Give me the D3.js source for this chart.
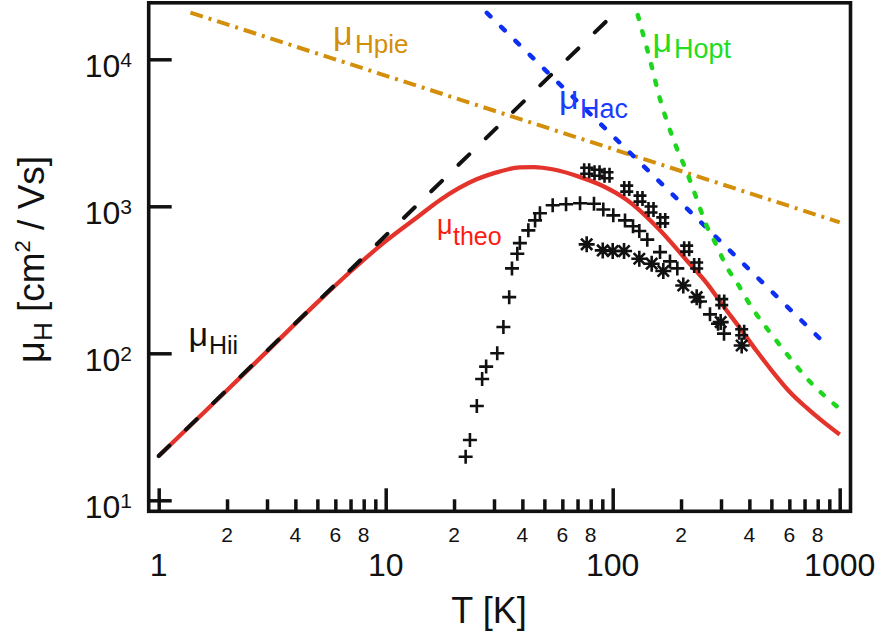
<!DOCTYPE html>
<html><head><meta charset="utf-8">
<script src="https://cdn.jsdelivr.net/npm/d3@7"></script>
<style>
body{margin:0;background:#fff}
svg{display:block}
text{font-family:"Liberation Sans",Arial,Helvetica,sans-serif}
</style>
</head><body>
<svg id="c" width="878" height="633"></svg>
<script>
// ---------- data ----------
const theoT  = [1, 2, 3, 5, 7, 10, 14, 17.3, 25, 30, 39, 45, 55, 72, 90, 116, 162, 212, 260, 307, 364, 430, 510, 600, 716, 850, 1000];
const theoMu = [20, 56, 103, 222, 360, 580, 860, 1100, 1520, 1680, 1840, 1850, 1780, 1580, 1380, 1100, 685, 428, 299, 210, 148, 104, 74, 55, 42.5, 34, 28];

const iiT  = [1, 100];
const iiMu = [20, 20000];

const pieT  = [1.38, 1000];
const pieMu = [20800, 778];

const acT  = [27.9, 900];
const acMu = [20700, 109];

const optT  = [129, 146, 162, 185, 213, 231, 259, 282, 323, 354, 386, 424, 500, 594, 740, 1000];
const optMu = [20000, 9900, 5300, 2850, 1680, 1200, 740, 570, 370, 300, 238, 190, 135, 96, 64, 42];

const plusT  = [22.5, 23.5, 25.2, 26.6, 27.7, 31.0, 33.0, 35.0, 36.0, 38.0, 39.0, 42.5, 45.5, 47.8, 54.4, 62.3, 71.8, 82.7, 90.9, 100.6, 113.3, 122.9, 131, 142, 161.6, 178.8, 192.6, 242.4, 268.3, 291, 309.3];
const plusMu = [19.8, 25.7, 43.8, 66.9, 81.2, 100, 151, 241, 378, 476, 562, 686, 802, 896, 1016, 1032, 1048, 1040, 950, 868, 802, 731, 679, 593, 488, 422, 378, 225, 184, 159, 136];

const hashT  = [76.8, 85.3, 94.4, 115.3, 131.9, 147.5, 166.1, 211.8, 234.4, 302.2, 370];
const hashMu = [1746, 1692, 1627, 1320, 1128, 950, 802, 515, 396, 223, 139];

const starT  = [76.8, 90.4, 100, 112.2, 131, 148.5, 167.1, 204.6, 234.4, 299, 370];
const starMu = [551, 501, 496, 496, 440, 407, 363, 289, 241, 163, 113];

const xMajorTicks = [1, 10, 100, 1000];
const xMinorTicks = [2,3,4,5,6,7,8,9, 20,30,40,50,60,70,80,90, 200,300,400,500,600,700,800,900];
const xMinorLabelTicks = [2,4,6,8, 20,40,60,80, 200,400,600,800];
const xMinorLabels = ["2","4","6","8","2","4","6","8","2","4","6","8"];
const xMajorLabels = ["1","10","100","1000"];
const yTicks = [10, 100, 1000, 10000];
const yTickExp = ["1","2","3","4"];

// ---------- layout ----------
const svg = d3.select("#c");
const L = 148.7, R = 850.5, TOP = 2.8, B = 511.3;
const x0 = d3.scaleLog().domain([1, 1000]).range([158.7, 839.7]);
const y0 = d3.scaleLog().domain([10, 10000]).range([500.3, 59.3]);
const x = d3.scaleLog().domain([x0.invert(L), x0.invert(R)]).range([L, R]);
const y = d3.scaleLog().domain([y0.invert(B), y0.invert(TOP)]).range([B, TOP]);

const zip = (a, b) => a.map((v, i) => [v, b[i]]);
const line = d3.line().x(d => x(d[0])).y(d => y(d[1])).curve(d3.curveMonotoneX);

const COL = {red:"#e3332a", redT:"#ff1a12", blue:"#0d2ff2", blueT:"#1a3cff", green:"#1ed61e", greenT:"#22dd22", orange:"#d38e0a", black:"#111"};

// ---------- curves ----------
svg.append("path").attr("d", line(zip(pieT, pieMu))).attr("fill","none")
  .attr("stroke", COL.orange).attr("stroke-width", 4).attr("stroke-dasharray","13,6,3,6");
svg.append("path").attr("d", line(zip(acT, acMu))).attr("fill","none")
  .attr("stroke", COL.blue).attr("stroke-width", 4.5).attr("stroke-linecap","round").attr("stroke-dasharray","5,15");
svg.append("path").attr("d", line(zip(optT, optMu))).attr("fill","none")
  .attr("stroke", COL.green).attr("stroke-width", 4.5).attr("stroke-linecap","round").attr("stroke-dasharray","4,13");
svg.append("path").attr("d", line(zip(theoT, theoMu))).attr("fill","none")
  .attr("stroke", COL.red).attr("stroke-width", 4.3);
svg.append("path").attr("d", line(zip(iiT, iiMu))).attr("fill","none")
  .attr("stroke", COL.black).attr("stroke-width", 4).attr("stroke-linecap","round").attr("stroke-dasharray","15,23");

// ---------- markers ----------
const mk = svg.append("g").attr("stroke", COL.black).attr("stroke-width", 2.6).attr("fill","none");
const plusPath = (cx, cy) => `M${cx-7},${cy}H${cx+7}M${cx},${cy-7}V${cy+7}`;
const hashPath = (cx, cy) => `M${cx-6.5},${cy-3}H${cx+6.5}M${cx-6.5},${cy+3}H${cx+6.5}M${cx-2.5},${cy-7.5}V${cy+7.5}M${cx+2.5},${cy-7.5}V${cy+7.5}`;
const starPath = (cx, cy) => {
  let d = "";
  for (let k = 0; k < 4; k++) {
    const a = k * Math.PI / 4, dx = 8 * Math.cos(a), dy = 8 * Math.sin(a);
    d += `M${cx-dx},${cy-dy}L${cx+dx},${cy+dy}`;
  }
  return d;
};
mk.selectAll(".p").data(zip(plusT, plusMu)).join("path").attr("d", d => plusPath(x(d[0]), y(d[1])));
mk.selectAll(".h").data(zip(hashT, hashMu)).join("path").attr("d", d => hashPath(x(d[0]), y(d[1])));
mk.selectAll(".s").data(zip(starT, starMu)).join("path").attr("d", d => starPath(x(d[0]), y(d[1])));

// ---------- axes ----------
const gx = svg.append("g").attr("transform", `translate(0,${B})`);
gx.append("g").call(d3.axisBottom(x).tickValues(xMinorTicks).tickSize(-12).tickFormat(""));
gx.append("g").call(d3.axisBottom(x).tickValues(xMajorTicks).tickSize(-23).tickFormat(""));
const gy = svg.append("g").attr("transform", `translate(${L},0)`);
gy.call(d3.axisLeft(y).tickValues(yTicks).tickSize(-23).tickFormat(""));
svg.selectAll(".domain").remove();
svg.selectAll(".tick line").attr("stroke", COL.black).attr("stroke-width", 3.5);

svg.append("rect").attr("x", L).attr("y", TOP).attr("width", R - L).attr("height", B - TOP)
  .attr("fill","none").attr("stroke", COL.black).attr("stroke-width", 3.6);

// tick labels
svg.append("g").selectAll("text").data(xMinorLabelTicks).join("text")
  .attr("x", d => x(d)).attr("y", 541.7).attr("text-anchor","middle")
  .attr("font-size", 21).attr("fill", COL.black).text((d, i) => xMinorLabels[i]);
svg.append("g").selectAll("text").data(xMajorTicks).join("text")
  .attr("x", d => x(d)).attr("y", 576).attr("text-anchor","middle")
  .attr("font-size", 32).attr("fill", COL.black).text((d, i) => xMajorLabels[i]);
const yl = svg.append("g").selectAll("text").data(yTicks).join("text")
  .attr("x", 132).attr("y", d => y(d) + 17.4).attr("text-anchor","end").attr("fill", COL.black);
yl.append("tspan").attr("font-size", 32).text("10");
yl.append("tspan").attr("font-size", 21).attr("dy", -10).text((d, i) => yTickExp[i]);

// axis titles
svg.append("text").attr("x", 489).attr("y", 623).attr("text-anchor","middle")
  .attr("font-size", 36).attr("fill", COL.black).text("T [K]");
const yt = svg.append("text").attr("transform","translate(43.5,363) rotate(-90)").attr("fill", COL.black);
yt.append("tspan").attr("font-size", 38).text("μ");
yt.append("tspan").attr("font-size", 26).attr("dy", 8).text("H");
yt.append("tspan").attr("font-size", 37).attr("dy", -8).text(" [cm");
yt.append("tspan").attr("font-size", 22).attr("dy", -14).text("2");
yt.append("tspan").attr("font-size", 37).attr("dy", 14).text(" / Vs]");

// curve labels
function muLabel(mx, mb, ms, sub, sx, sb, ss, col) {
  svg.append("text").attr("x", mx).attr("y", mb).attr("font-size", ms).attr("fill", col).text("μ");
  svg.append("text").attr("x", sx).attr("y", sb).attr("font-size", ss).attr("fill", col).text(sub);
}
muLabel(333, 45.3, 34, "Hpie", 355, 52.7, 26, COL.orange);
muLabel(559, 108.7, 34, "Hac", 580, 118.3, 27, COL.blueT);
muLabel(652.5, 52, 34, "Hopt", 674, 58.3, 27, COL.greenT);
muLabel(188.5, 346, 34, "Hii", 209, 354, 25, COL.black);
muLabel(437, 233.5, 27, "theo", 453, 245, 25, COL.redT);
</script>
</body></html>
